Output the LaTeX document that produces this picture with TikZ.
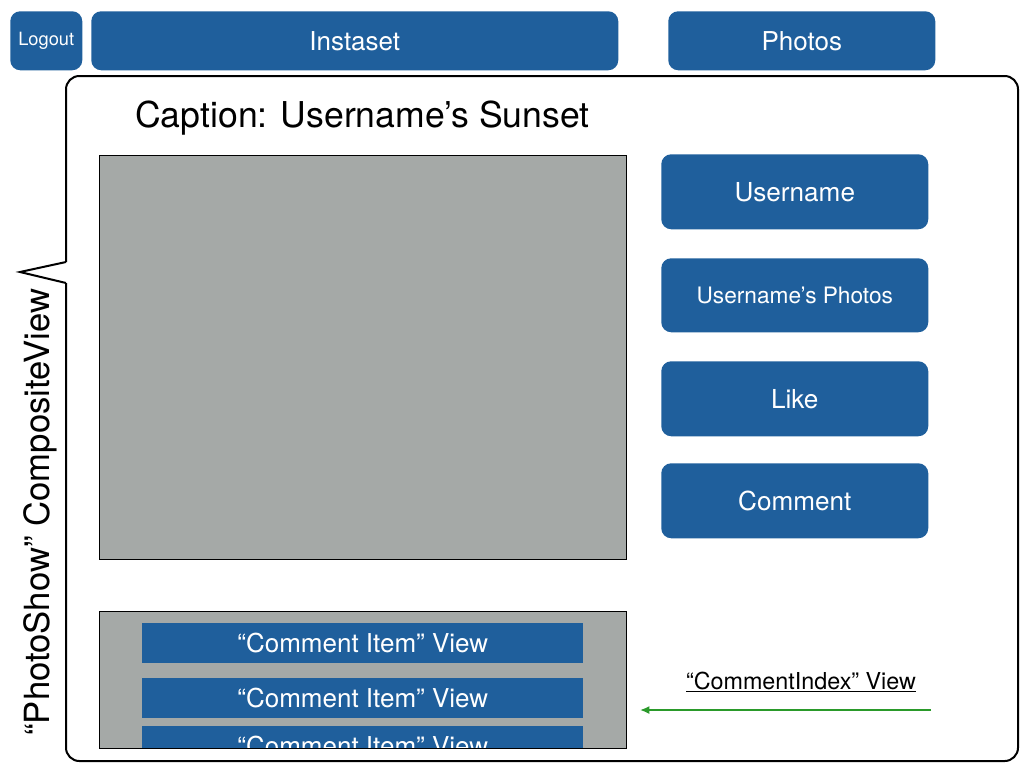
\documentclass[tikz,border=0pt]{standalone}
\usepackage{fontspec}
\setmainfont{TeX Gyre Heros}
\usetikzlibrary{arrows.meta}
\definecolor{btnblue}{HTML}{1F5F9C}
\definecolor{panelgray}{HTML}{A5A9A7}
\definecolor{arrowgreen}{HTML}{2A9A2A}
\begin{document}
\begin{tikzpicture}[x=0.75pt,y=-0.75pt,
  btn/.style={fill=btnblue,rounded corners=7.5pt,text=white,inner sep=0pt,anchor=north west},
  item/.style={fill=btnblue,text=white,inner sep=0pt,anchor=north west,font=\fontsize{19.5}{22}\selectfont},
  panel/.style={fill=panelgray,draw=black,line width=0.6pt,inner sep=0pt,anchor=north west}]
\useasboundingbox (0,0) rectangle (1024,768);
% top bar
\node[btn,minimum width=72*0.75pt,minimum height=59*0.75pt,font=\fontsize{13.7}{16}\selectfont] (logout) at (10,11) {Logout};
\node[btn,minimum width=527*0.75pt,minimum height=59*0.75pt,font=\fontsize{19.5}{22}\selectfont] (instaset) at (91,11) {Instaset};
\node[btn,minimum width=267*0.75pt,minimum height=59*0.75pt,font=\fontsize{19.5}{22}\selectfont] (photos) at (668,11) {Photos};
% callout border
\draw[line width=1.5pt,rounded corners=10pt] (66,283) -- (66,761) -- (1018,761) -- (1018,76) -- (66,76) -- (66,262);
\draw[line width=1.5pt,line join=miter] (66,262) -- (20,272) -- (66,283);
% caption
\node[anchor=west,font=\fontsize{26.7}{31}\selectfont,inner sep=0pt] (caption) at (135,118) {Caption: Username’s Sunset};
% photo area
\node[panel,minimum width=527*0.75pt,minimum height=404*0.75pt] (photo) at (99,155) {};
% right buttons
\node[btn,minimum width=267*0.75pt,minimum height=75*0.75pt,font=\fontsize{19.6}{22}\selectfont] (user) at (661,154) {Username};
\node[btn,minimum width=267*0.75pt,minimum height=74*0.75pt,font=\fontsize{17}{20}\selectfont] (userphotos) at (661,258) {Username’s Photos};
\node[btn,minimum width=267*0.75pt,minimum height=75*0.75pt,font=\fontsize{19.6}{22}\selectfont] (like) at (661,361) {Like};
\node[btn,minimum width=267*0.75pt,minimum height=75*0.75pt,font=\fontsize{19.6}{22}\selectfont] (comment) at (661,463) {Comment};
% comment list
\begin{scope}
\clip (99,611) rectangle (626,748);
\node[panel,minimum width=527*0.75pt,minimum height=150*0.75pt] (list) at (99,611) {};
\node[item,minimum width=441*0.75pt,minimum height=40*0.75pt] (item1) at (142,623) {“Comment Item” View};
\node[item,minimum width=441*0.75pt,minimum height=40*0.75pt] (item2) at (142,678) {“Comment Item” View};
\node[item,minimum width=441*0.75pt,minimum height=40*0.75pt] (item3) at (142,726) {“Comment Item” View};
\end{scope}
\draw[line width=0.6pt] (99,611) rectangle (626,748);
% comment index label and arrow
\node[font=\fontsize{17.5}{20}\selectfont,inner sep=0pt] (idx) at (801,682) {\underline{“CommentIndex” View}};
\coordinate (arrS) at (931,710);
\coordinate (arrE) at (640,710);
\draw[arrowgreen,line width=1.2pt,-{Latex[length=7pt,width=6pt]}] (arrS) -- (arrE);
% side label
\node[rotate=90,font=\fontsize{26}{30}\selectfont,inner sep=0pt] (side) at (40,512) {“PhotoShow” CompositeView};
\end{tikzpicture}
\end{document}
